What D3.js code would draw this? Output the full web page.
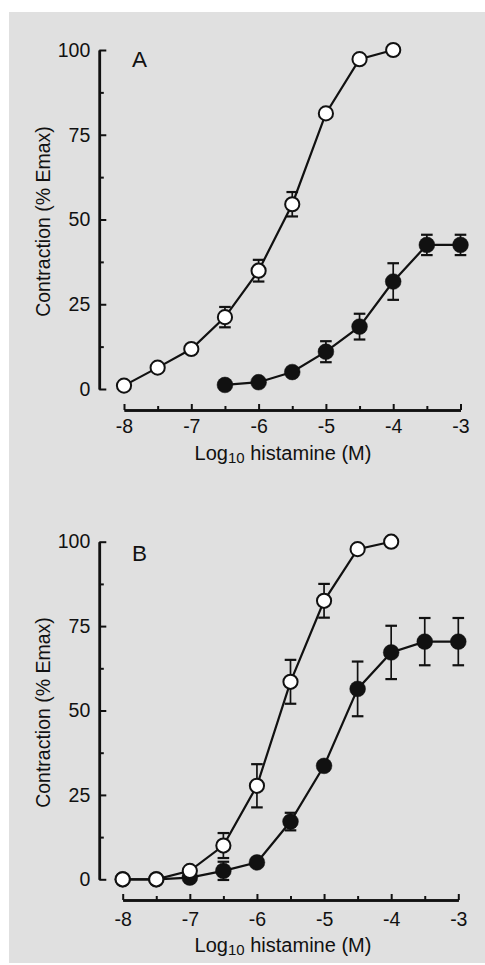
<!DOCTYPE html>
<html lang="en">
<head>
<meta charset="UTF-8">
<title>Histamine concentration-response curves</title>
<script src="https://d3js.org/d3.v7.min.js"></script>
<style>
    body { margin: 0; background: #fff; }
    svg text { font-family: "Liberation Sans", Arial, sans-serif; fill: #111; }
    .axis path, .axis line { stroke: #111; }
</style>
</head>
<body>
<div id="chart"></div>
<script>
    // log10 histamine (M)
    const doses = [-8, -7.5, -7, -6.5, -6, -5.5, -5, -4.5, -4, -3.5, -3];

    // Panel A: open = control, filled = treated (% Emax, +/- SEM)
    const openA    = [1.0, 6.3, 11.8, 21.2, 34.9, 54.5, 81.3, 97.3, 100, null, null];
    const openAErr = [0, 0, 0, 3.0, 3.2, 3.6, 0, 0, 0, null, null];
    const fillA    = [null, null, null, 1.2, 2.0, 5.0, 11.0, 18.4, 31.7, 42.5, 42.5];
    const fillAErr = [null, null, null, 0, 0, 0, 3.1, 3.8, 5.4, 3.0, 3.0];

    // Panel B
    const openB    = [0, 0, 2.5, 10.0, 27.7, 58.5, 82.5, 97.8, 100, null, null];
    const openBErr = [0, 0, 0, 3.7, 6.4, 6.5, 5.0, 0, 0, null, null];
    const fillB    = [0, 0, 0.5, 2.5, 5.0, 17.1, 33.6, 56.4, 67.2, 70.4, 70.4];
    const fillBErr = [0, 0, 0, 2.7, 0, 2.6, 0, 8.1, 7.9, 7.0, 7.0];

    const yTicks = [0, 25, 50, 75, 100];
    const yMinor = [12.5, 37.5, 62.5, 87.5];
    const xTicks = [-8, -7, -6, -5, -4, -3];
    const xMinor = [-7.5, -6.5, -5.5, -4.5, -3.5];

    const W = 485, H = 965;
    const svg = d3.select("#chart").append("svg")
        .attr("width", W).attr("height", H);

    svg.append("rect")
        .attr("x", 9).attr("y", 12)
        .attr("width", W - 9).attr("height", 951)
        .attr("fill", "#e0e0e0");

    const panels = [
        { label: "A", open: openA, openErr: openAErr, fill: fillA, fillErr: fillAErr,
          x0: 124, x1: 460.5, yTop: 50, yBot: 389, axisY: 410, tickPad: 9, titleY: 459.5, letterY: 66.5 },
        { label: "B", open: openB, openErr: openBErr, fill: fillB, fillErr: fillBErr,
          x0: 122.7, x1: 458.3, yTop: 541.7, yBot: 879.3, axisY: 900, tickPad: 12, titleY: 951.5, letterY: 560.5 }
    ];

    const axisX = 99.3;

    function series(vals, errs) {
        return doses.map((d, i) => ({ x: d, y: vals[i], e: errs[i] }))
                    .filter(p => p.y !== null);
    }

    panels.forEach(p => {
        const x = d3.scaleLinear().domain([-8, -3]).range([p.x0, p.x1]);
        const y = d3.scaleLinear().domain([0, 100]).range([p.yBot, p.yTop]);
        const g = svg.append("g");

        // y axis (ticks point inward)
        g.append("g").attr("class", "axis")
            .attr("transform", `translate(${axisX},0)`)
            .call(d3.axisLeft(y).tickValues(yTicks).tickSizeInner(-7).tickSizeOuter(0).tickPadding(9));
        g.append("g").attr("class", "axis")
            .attr("transform", `translate(${axisX},0)`)
            .call(d3.axisLeft(y).tickValues(yMinor).tickSizeInner(-4.5).tickSizeOuter(0).tickFormat(""));

        // x axis
        g.append("g").attr("class", "axis")
            .attr("transform", `translate(0,${p.axisY})`)
            .call(d3.axisBottom(x).tickValues(xTicks).tickSizeInner(-6).tickSizeOuter(0)
                .tickPadding(p.tickPad).tickFormat(d => d));
        g.append("g").attr("class", "axis")
            .attr("transform", `translate(0,${p.axisY})`)
            .call(d3.axisBottom(x).tickValues(xMinor).tickSizeInner(-4).tickSizeOuter(0).tickFormat(""));

        g.selectAll(".axis path").attr("stroke-width", 2.5);
        g.selectAll(".axis line").attr("stroke-width", 2);
        g.selectAll(".axis text").attr("font-size", 19.5).attr("fill", "#111")
            .attr("font-family", "Liberation Sans, Arial, sans-serif");

        // axis titles
        g.append("text")
            .attr("transform", `translate(50,${(p.yTop + p.yBot) / 2 + 2}) rotate(-90)`)
            .attr("text-anchor", "middle")
            .attr("font-size", 19.5)
            .text("Contraction (% Emax)");

        const xt = g.append("text")
            .attr("x", 283).attr("y", p.titleY)
            .attr("text-anchor", "middle")
            .attr("font-size", 20);
        xt.append("tspan").text("Log");
        xt.append("tspan").attr("font-size", 15).attr("dy", 3.5).text("10");
        xt.append("tspan").attr("dy", -3.5).text(" histamine (M)");

        // panel letter
        g.append("text")
            .attr("x", 132).attr("y", p.letterY)
            .attr("font-size", 22.5)
            .text(p.label);

        const line = d3.line().x(d => x(d.x)).y(d => y(d.y));

        const sets = [
            { data: series(p.fill, p.fillErr), filled: true },
            { data: series(p.open, p.openErr), filled: false }
        ];

        sets.forEach(s => {
            g.append("path").datum(s.data)
                .attr("d", line)
                .attr("fill", "none")
                .attr("stroke", "#111")
                .attr("stroke-width", 2.2);
        });

        sets.forEach(s => {
            const eb = g.append("g").selectAll("g")
                .data(s.data.filter(d => d.e > 0))
                .join("g");
            eb.append("line")
                .attr("x1", d => x(d.x)).attr("x2", d => x(d.x))
                .attr("y1", d => y(d.y - d.e)).attr("y2", d => y(d.y + d.e))
                .attr("stroke", "#111").attr("stroke-width", 1.7);
            [-1, 1].forEach(sgn => {
                eb.append("line")
                    .attr("x1", d => x(d.x) - 5.8).attr("x2", d => x(d.x) + 5.8)
                    .attr("y1", d => y(d.y + sgn * d.e)).attr("y2", d => y(d.y + sgn * d.e))
                    .attr("stroke", "#111").attr("stroke-width", 2.2);
            });

            g.append("g").selectAll("circle")
                .data(s.data)
                .join("circle")
                .attr("cx", d => x(d.x))
                .attr("cy", d => y(d.y))
                .attr("r", s.filled ? 7.9 : 7.1)
                .attr("fill", s.filled ? "#111" : "#fff")
                .attr("stroke", "#111")
                .attr("stroke-width", s.filled ? 0.5 : 2);
        });
    });
</script>
</body>
</html>
